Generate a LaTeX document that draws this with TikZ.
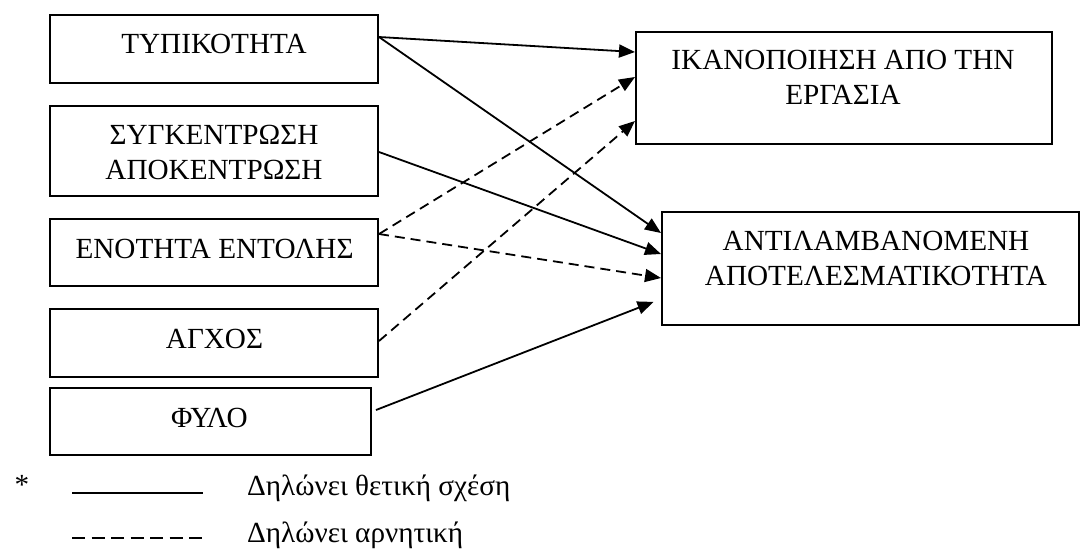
\documentclass[tikz,border=0pt]{standalone}
\usepackage{fontspec}
\setmainfont{Liberation Serif}
\usetikzlibrary{arrows.meta,calc}
\begin{document}
\begin{tikzpicture}[x=1pt,y=-1pt,
  box/.style={draw,line width=2pt,rectangle,inner sep=0pt},
  txt/.style={inner sep=0pt,font=\fontsize{29.2}{35}\selectfont,align=center},
  posarr/.style={line width=1.8pt,-{Triangle[length=16pt,width=13pt]}},
  negarr/.style={posarr,dash pattern=on 10pt off 6pt},
  legline/.style={line width=1.8pt}]
\useasboundingbox (0,0) rectangle (1080,558);
% left boxes
\node[box,minimum width=328pt,minimum height=68pt] (b1) at (214,49) {};
\node[box,minimum width=328pt,minimum height=90pt] (b2) at (214,151) {};
\node[box,minimum width=328pt,minimum height=67pt] (b3) at (214,252.5) {};
\node[box,minimum width=328pt,minimum height=68pt] (b4) at (214,343) {};
\node[box,minimum width=321pt,minimum height=67pt] (b5) at (210.5,421.5) {};
% right boxes
\node[box,minimum width=416pt,minimum height=112pt] (r1) at (844,88) {};
\node[box,minimum width=417pt,minimum height=113pt] (r2) at (870.5,268.5) {};
% texts
\node[txt,anchor=base] (t1) at (214,53) {ΤΥΠΙΚΟΤΗΤΑ};
\node[txt,anchor=center] (t2) at (214,152.5) {ΣΥΓΚΕΝΤΡΩΣΗ\\ΑΠΟΚΕΝΤΡΩΣΗ};
\node[txt,anchor=base] (t3) at (214.5,258) {ΕΝΟΤΗΤΑ ΕΝΤΟΛΗΣ};
\node[txt,anchor=base] (t4) at (214.5,348) {ΑΓΧΟΣ};
\node[txt,anchor=base] (t5) at (209.5,427) {ΦΥΛΟ};
\node[txt,anchor=center] (tr1) at (843,77.5) {ΙΚΑΝΟΠΟΙΗΣΗ ΑΠΟ ΤΗΝ\\ΕΡΓΑΣΙΑ};
\node[txt,anchor=center] (tr2) at (876,258.5) {ΑΝΤΙΛΑΜΒΑΝΟΜΕΝΗ\\ΑΠΟΤΕΛΕΣΜΑΤΙΚΟΤΗΤΑ};
% connectors
\draw[posarr] ([yshift=-23pt]b1.north east) -- ([yshift=-21pt]r1.north west);
\draw[posarr] ([yshift=-23pt]b1.north east) -- ([yshift=-22pt]r2.north west);
\draw[posarr] ([yshift=-47pt]b2.north east) -- ([yshift=-43pt]r2.north west);
\draw[negarr] ([yshift=-16pt]b3.north east) -- ([yshift=-46pt]r1.north west);
\draw[negarr] ([yshift=-16pt]b3.north east) -- ([yshift=-67pt]r2.north west);
\draw[negarr] ([yshift=-33pt]b4.north east) -- ([yshift=-90pt]r1.north west);
\draw[posarr,shorten >=8pt] ([xshift=4pt,yshift=-23pt]b5.north east) -- ([yshift=-88pt]r2.north west);
% legend
\node[txt,anchor=base] (star) at (22,494) {*};
\coordinate (s1) at (72,493);
\coordinate (s2) at (203,493);
\coordinate (d1) at (72,538);
\coordinate (d2) at (203,538);
\draw[legline] (s1) -- (s2);
\draw[legline,dash pattern=on 13pt off 6.5pt] (d1) -- (d2);
\node[txt,anchor=base west] (l1) at (247,495) {Δηλώνει θετική σχέση};
\node[txt,anchor=base west] (l2) at (247,542) {Δηλώνει αρνητική};
\end{tikzpicture}
\end{document}
